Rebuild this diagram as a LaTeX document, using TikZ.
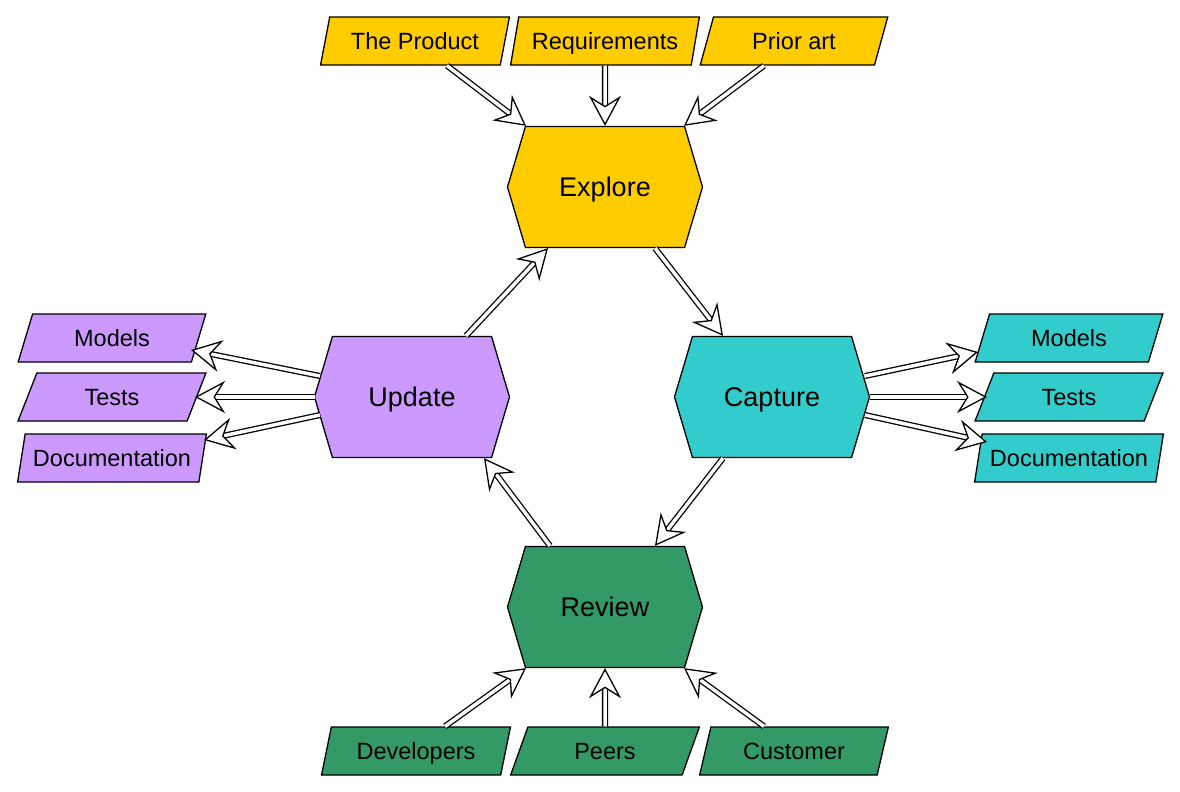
\documentclass[tikz,border=0pt]{standalone}
\usepackage{fontspec}
\setmainfont{Liberation Sans}
\usetikzlibrary{positioning,shapes.geometric,shapes.symbols,arrows.meta}
\definecolor{explorecol}{HTML}{FFCC00}
\definecolor{capturecol}{HTML}{33CCCC}
\definecolor{reviewcol}{HTML}{339966}
\definecolor{updatecol}{HTML}{CC99FF}
\tikzset{
  stage/.style={draw, line width=1.3pt, signal, signal to=east and west, signal pointer angle=147,
    minimum width=195pt, minimum height=121pt, inner sep=0pt, text height=19.5pt, text depth=0pt,
    font=\fontsize{27}{30}\selectfont},
  item/.style={draw, line width=1.3pt, trapezium, trapezium left angle=68, trapezium right angle=112,
    trapezium stretches=true, minimum width=189pt, minimum height=48pt, inner sep=0pt,
    text height=17pt, text depth=0pt, font=\fontsize{23.5}{26}\selectfont},
  flow/.style={double, double distance=3.5pt, line width=1.3pt,
    -{Stealth[length=30pt, width=32pt, inset=10pt, fill=white]}}
}
\begin{document}
\begin{tikzpicture}[x=1pt, y=-1pt]
  \useasboundingbox (0,0) rectangle (1180,792);
  % the four stages
  \node[stage, fill=explorecol] (explore) at (605,187) {Explore};
  \node[stage, fill=capturecol, on grid, below right=210pt and 167pt of explore] (capture) {Capture};
  \node[stage, fill=updatecol, on grid, below left=210pt and 193pt of explore] (update) {Update};
  \node[stage, fill=reviewcol, on grid, below=420pt of explore] (review) {Review};
  % inputs of explore
  \node[item, fill=explorecol, on grid, above=146pt of explore] (req) {Requirements};
  \node[item, fill=explorecol, on grid, left=190pt of req] (product) {The Product};
  \node[item, fill=explorecol, on grid, right=189pt of req] (prior) {Prior art};
  % outputs of update
  \node[item, fill=updatecol, on grid, left=300pt of update] (ltests) {Tests};
  \node[item, fill=updatecol, on grid, above=59pt of ltests] (lmodels) {Models};
  \node[item, fill=updatecol, on grid, below=61pt of ltests] (ldoc) {Documentation};
  % outputs of capture
  \node[item, fill=capturecol, on grid, right=297pt of capture] (rtests) {Tests};
  \node[item, fill=capturecol, on grid, above=59pt of rtests] (rmodels) {Models};
  \node[item, fill=capturecol, on grid, below=61pt of rtests] (rdoc) {Documentation};
  % inputs of review
  \node[item, fill=reviewcol, on grid, below=144pt of review] (peers) {Peers};
  \node[item, fill=reviewcol, on grid, left=189pt of peers] (devs) {Developers};
  \node[item, fill=reviewcol, on grid, right=189pt of peers] (cust) {Customer};
  % cycle
  \draw[flow] ([xshift=50pt]explore.south) -- ([xshift=-49pt]capture.north);
  \draw[flow] ([xshift=-49pt]capture.south) -- ([xshift=50pt]review.north);
  \draw[flow] ([xshift=-55pt]review.north) -- ([xshift=72pt]update.south);
  \draw[flow] ([xshift=54pt]update.north) -- ([xshift=-57pt]explore.south);
  % into explore
  \draw[flow] ([xshift=32pt]product.south) -- ([xshift=-79pt]explore.north);
  \draw[flow] (req.south) -- (explore.north);
  \draw[flow] ([xshift=-30pt]prior.south) -- ([xshift=79pt]explore.north);
  % out of update
  \draw[flow] ([shift={(-92,-21)}]update.center) -- ([shift={(79,12)}]lmodels.center);
  \draw[flow] ([shift={(-97,0)}]update.center) -- ([shift={(83,0)}]ltests.center);
  \draw[flow] ([shift={(-92,18)}]update.center) -- ([shift={(92,-18)}]ldoc.center);
  % out of capture
  \draw[flow] ([shift={(93,-21)}]capture.center) -- ([shift={(-91,14)}]rmodels.center);
  \draw[flow] ([shift={(98,0)}]capture.center) -- ([shift={(-82,0)}]rtests.center);
  \draw[flow] ([shift={(93,18)}]capture.center) -- ([shift={(-82,-16)}]rdoc.center);
  % into review
  \draw[flow] ([xshift=29pt]devs.north) -- ([xshift=-79pt]review.south);
  \draw[flow] (peers.north) -- (review.south);
  \draw[flow] ([xshift=-30pt]cust.north) -- ([xshift=79pt]review.south);
\end{tikzpicture}
\end{document}
